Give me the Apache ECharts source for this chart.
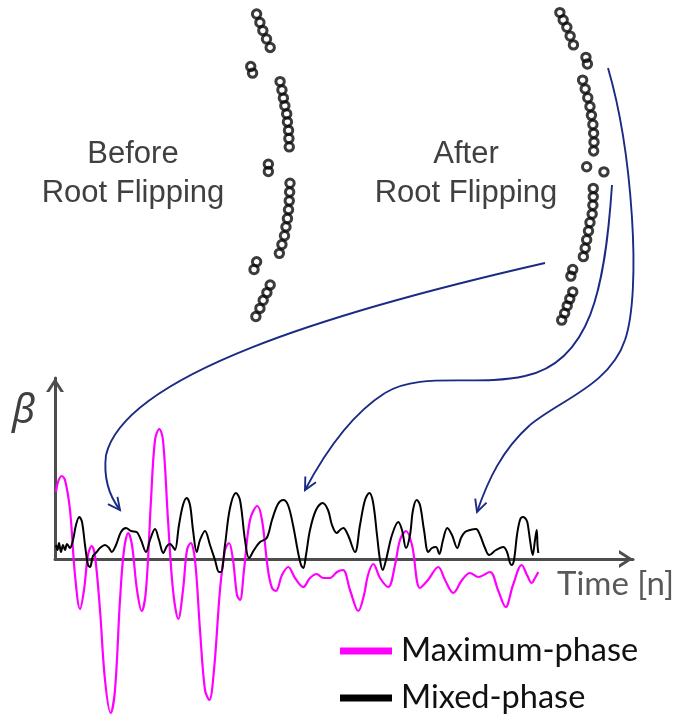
<!DOCTYPE html>
<html>
<head>
<meta charset="utf-8">
<script src="https://cdn.jsdelivr.net/npm/echarts@6/dist/echarts.min.js"></script>
<style>
  html, body { margin: 0; padding: 0; background: #ffffff; }
  #chart { width: 674px; height: 718px; }
</style>
</head>
<body>
<div id="chart"></div>
<script>
// Zeros of the filter in the z-plane [real, imaginary], before and after flipping
const rootsBefore = [
  [0.909, 0.414], [0.918, 0.391], [0.926, 0.369], [0.936, 0.346], [0.946, 0.323],
  [0.893, 0.271], [0.898, 0.253],
  [0.973, 0.230], [0.978, 0.207], [0.982, 0.185], [0.986, 0.164], [0.991, 0.142],
  [0.993, 0.120], [0.996, 0.097], [0.997, 0.075], [0.998, 0.052],
  [0.941, 0.005], [0.941, -0.015],
  [1.000, -0.047], [0.999, -0.071], [0.998, -0.095], [0.996, -0.119], [0.993, -0.143],
  [0.989, -0.166], [0.985, -0.190], [0.978, -0.214], [0.971, -0.238],
  [0.909, -0.261], [0.902, -0.282],
  [0.946, -0.324], [0.937, -0.345], [0.927, -0.366], [0.918, -0.388], [0.907, -0.410]
];
const rootsAfter = [
  [0.907, 0.418], [0.916, 0.398], [0.926, 0.378], [0.935, 0.354], [0.944, 0.330],
  [0.978, 0.296], [0.982, 0.278],
  [0.969, 0.234], [0.976, 0.210], [0.983, 0.186], [0.989, 0.162], [0.993, 0.138],
  [0.997, 0.113], [0.999, 0.089], [1.000, 0.065], [0.999, 0.041],
  [0.980, -0.002], [1.027, -0.016],
  [0.998, -0.061], [0.998, -0.084], [0.997, -0.107], [0.995, -0.131], [0.989, -0.154],
  [0.985, -0.177], [0.980, -0.201], [0.976, -0.224], [0.971, -0.247],
  [0.942, -0.282], [0.937, -0.300],
  [0.942, -0.343], [0.934, -0.362], [0.927, -0.381], [0.920, -0.401], [0.912, -0.420]
];

// Time-domain responses: [n, beta]
const maximumPhase = [
  [1, 0.67], [3, 0.77], [6.7, 0.83], [10, 0.79], [15, 0.49], [20, -0.16], [25, -0.50],
  [29, -0.31], [33, 0.04], [36.7, 0.13], [40, 0.03], [45, -0.51], [50, -1.21], [55.7, -1.54],
  [60, -1.31], [65, -0.41], [69, 0.09], [73.3, 0.26], [77, 0.14], [82, -0.31], [86.7, -0.52],
  [91, -0.31], [96, 0.59], [100, 1.19], [104.3, 1.30], [108, 1.19], [113, 0.39], [118, -0.31],
  [123.3, -0.60], [128, -0.31], [132, 0.09], [135.7, 0.16], [140, -0.01], [145, -0.71],
  [150, -1.31], [154.3, -1.41], [159, -1.11], [165, -0.31], [170, 0.09], [174, 0.16],
  [178, -0.01], [182, -0.36], [185, -0.41], [189, -0.11], [195, 0.39], [202.3, 0.53],
  [207, 0.39], [213, -0.11], [217, -0.29], [221, -0.32], [227, -0.16], [233.3, -0.08],
  [240, -0.19], [248.3, -0.28], [255, -0.19], [261.7, -0.15], [268.3, -0.19], [275, -0.19],
  [282, -0.13], [288, -0.11], [295, -0.31], [303.3, -0.52], [309, -0.36], [313, -0.16],
  [318.3, -0.05], [325, -0.19], [333.3, -0.28], [340, -0.06], [345, 0.19], [351, 0.28],
  [357, 0.14], [365, -0.29], [373, -0.21], [383.3, -0.08], [390, -0.21], [398.3, -0.34],
  [407, -0.21], [415, -0.14], [423.3, -0.18], [435, -0.13], [443, -0.31], [450.7, -0.48],
  [458, -0.26], [466.7, -0.06], [472, -0.16], [476.7, -0.24], [480, -0.19], [483.3, -0.13]
];
const mixedPhase = [
  [1, 0.14], [2.5, 0.09], [4, 0.16], [6, 0.07], [8, 0.14], [10, 0.09], [12, 0.15], [15, 0.11],
  [18, 0.19], [21, 0.34], [24.3, 0.42], [27, 0.37], [30, 0.14], [33, -0.06], [35, -0.08],
  [38, 0.03], [41.7, 0.07], [45, 0.11], [50, 0.14], [54, 0.11], [56.7, 0.07], [61, 0.14],
  [66, 0.27], [71, 0.31], [76, 0.28], [81.7, 0.27], [86, 0.19], [91, 0.07], [95, 0.19],
  [100, 0.30], [104, 0.19], [108.3, 0.06], [112, 0.13], [115, 0.15], [118, 0.12], [120, 0.09],
  [124, 0.34], [128, 0.54], [131.7, 0.61], [135, 0.54], [138, 0.29], [141.7, 0.07], [145, 0.19],
  [150, 0.28], [155, 0.14], [160, -0.01], [164, -0.13], [166, -0.13], [170, 0.14], [175, 0.51],
  [181, 0.66], [185, 0.59], [190, 0.19], [194, 0.01], [199, 0.09], [205, 0.17], [211.7, 0.21],
  [217, 0.39], [223, 0.55], [228.3, 0.59], [233, 0.54], [238, 0.34], [243, 0.07], [246, -0.06],
  [248.3, -0.09], [251, 0.04], [255, 0.29], [261, 0.49], [267.7, 0.56], [273, 0.49], [277, 0.34],
  [281.7, 0.26], [285, 0.29], [288.3, 0.31], [293, 0.24], [300, 0.07], [305, 0.34], [310, 0.59],
  [314.3, 0.66], [318, 0.57], [322, 0.24], [325, -0.01], [327.7, -0.11], [331, -0.01], [337, 0.24],
  [343.3, 0.37], [347, 0.29], [351, 0.11], [355, 0.24], [358, 0.49], [361.7, 0.59], [365, 0.54],
  [369, 0.29], [373.3, 0.07], [377, 0.11], [381, 0.12], [384.3, 0.05], [388, 0.19], [392.3, 0.31],
  [397, 0.24], [402.3, 0.11], [406, 0.21], [410, 0.27], [415, 0.29], [421, 0.30], [425, 0.24],
  [430, 0.11], [434.3, 0.04], [441, 0.09], [448.3, 0.12], [452, 0.07], [455, -0.04], [456.7, -0.06],
  [459, -0.01], [462, 0.24], [465, 0.39], [467.7, 0.42], [470, 0.41], [472.3, 0.37], [475, 0.19],
  [477.7, 0.04], [480, 0.19], [481.7, 0.29], [482.5, 0.14], [483.3, 0.06]
];

const seriesNames = ['Maximum-phase', 'Mixed-phase'];
const seriesColors = ['#ff00ff', '#000000'];
const panelTitles = ['Before\nRoot Flipping', 'After\nRoot Flipping'];
const timeLabel = 'Time [n]';
const betaLabel = '\u03B2';

// z-plane panels: unit radius in pixels and the centre of each circle
const R = 367;
const zCentres = [[-77, 166], [227, 166]];
const reRange = [0.8, 1.1];
const imRange = [-0.45, 0.45];
function zGrid(c) {
  return {
    left: c[0] + reRange[0] * R,
    width: (reRange[1] - reRange[0]) * R,
    top: c[1] - imRange[1] * R,
    height: (imRange[1] - imRange[0]) * R
  };
}

const axisGrey = '#4d4d4d';
const chevron = 'path://M0,14 L9,0 L18,14 L14.6,14 L9,5.2 L3.4,14 Z';

function hiddenAxis(grid, range) {
  return { type: 'value', gridIndex: grid, min: range[0], max: range[1], show: false };
}

function rootSeries(data, idx) {
  return {
    type: 'scatter', xAxisIndex: idx, yAxisIndex: idx, data: data,
    symbol: 'circle', symbolSize: 8.4, silent: true,
    itemStyle: { color: 'rgba(0,0,0,0)', borderColor: '#0a0a0a', borderWidth: 3 }
  };
}

function legendFor(name, top) {
  return {
    data: [name], orient: 'vertical', left: 340, top: top, padding: 0,
    icon: 'rect', itemWidth: 52, itemHeight: 7,
    textStyle: { fontFamily: 'Lato', fontSize: 32.5, color: '#111111', lineHeight: 40, padding: [0, 0, 0, 4] }
  };
}

// Curved annotation arrows (cubic segments) leading from the root groups to the traces
const arrowPaths = [
  [[[545, 263], [330, 312], [125, 375], [106, 455]], [[106, 455], [103, 480], [110, 497], [120, 510]]],
  [[[612, 185], [605, 290], [590, 362], [525, 376]], [[525, 376], [475, 387], [420, 371], [385, 393]],
   [[385, 393], [350, 415], [322, 458], [305, 490]]],
  [[[608, 68], [632, 150], [642, 290], [625, 340]], [[625, 340], [610, 385], [560, 400], [530, 425]],
   [[530, 425], [502, 450], [488, 480], [477, 512]]]
];
const arrowColor = '#1b2a84';

function headPoints(tip, from, len, spread) {
  const dx = tip[0] - from[0], dy = tip[1] - from[1];
  const d = Math.hypot(dx, dy), ux = dx / d, uy = dy / d;
  const bx = tip[0] - ux * len, by = tip[1] - uy * len;
  return [[bx - uy * spread, by + ux * spread], tip, [bx + uy * spread, by - ux * spread]];
}

const graphics = [];
arrowPaths.forEach(function (segs) {
  segs.forEach(function (s) {
    graphics.push({
      type: 'bezierCurve', silent: true,
      shape: { x1: s[0][0], y1: s[0][1], cpx1: s[1][0], cpy1: s[1][1], cpx2: s[2][0], cpy2: s[2][1], x2: s[3][0], y2: s[3][1] },
      style: { stroke: arrowColor, lineWidth: 1.9, fill: null }
    });
  });
  const last = segs[segs.length - 1];
  graphics.push({
    type: 'polyline', silent: true,
    shape: { points: headPoints(last[3], last[2], 12, 6) },
    style: { stroke: arrowColor, lineWidth: 1.9, fill: null }
  });
});

graphics.push(
  { type: 'text', silent: true, style: { text: panelTitles[0], x: 133, y: 135, align: 'center', verticalAlign: 'top',
      font: '31px "Liberation Sans"', lineHeight: 39, fill: '#404040' } },
  { type: 'text', silent: true, style: { text: panelTitles[1], x: 466, y: 135, align: 'center', verticalAlign: 'top',
      font: '31px "Liberation Sans"', lineHeight: 39, fill: '#404040' } },
  { type: 'text', silent: true, style: { text: betaLabel, x: 12, y: 392, align: 'left', verticalAlign: 'top',
      font: 'italic 40px "Noto Sans"', fill: '#404040' } },
  { type: 'text', silent: true, style: { text: timeLabel, x: 557, y: 568, align: 'left', verticalAlign: 'top',
      font: '33px Lato', fill: '#595959' } }
);

const chart = echarts.init(document.getElementById('chart'), null, { renderer: 'canvas' });
chart.setOption({
  animation: false,
  backgroundColor: '#ffffff',
  grid: [
    { left: 55, top: 378, width: 578, height: 181 },
    zGrid(zCentres[0]),
    zGrid(zCentres[1])
  ],
  xAxis: [
    {
      type: 'value', gridIndex: 0, min: 0, max: 578,
      axisLine: { show: true, onZero: true, lineStyle: { color: axisGrey, width: 3 },
        symbol: ['none', chevron], symbolSize: [18, 14], symbolOffset: [0, -7] },
      axisTick: { show: false }, axisLabel: { show: false }, splitLine: { show: false }
    },
    hiddenAxis(1, reRange),
    hiddenAxis(2, reRange)
  ],
  yAxis: [
    {
      type: 'value', gridIndex: 0, min: 0, max: 1.81,
      axisLine: { show: true, onZero: true, lineStyle: { color: axisGrey, width: 3 },
        symbol: ['none', chevron], symbolSize: [18, 14], symbolOffset: [0, -7] },
      axisTick: { show: false }, axisLabel: { show: false }, splitLine: { show: false }
    },
    hiddenAxis(1, imRange),
    hiddenAxis(2, imRange)
  ],
  legend: [legendFor(seriesNames[0], 631), legendFor(seriesNames[1], 678)],
  series: [
    {
      name: seriesNames[0], type: 'line', xAxisIndex: 0, yAxisIndex: 0, data: maximumPhase,
      color: seriesColors[0], showSymbol: false, smooth: 0.35, clip: false, silent: true,
      lineStyle: { width: 2.2, color: seriesColors[0] }
    },
    {
      name: seriesNames[1], type: 'line', xAxisIndex: 0, yAxisIndex: 0, data: mixedPhase,
      color: seriesColors[1], showSymbol: false, smooth: 0.35, clip: false, silent: true,
      lineStyle: { width: 2, color: seriesColors[1] }
    },
    rootSeries(rootsBefore, 1),
    rootSeries(rootsAfter, 2)
  ],
  graphic: graphics
});
</script>
</body>
</html>
